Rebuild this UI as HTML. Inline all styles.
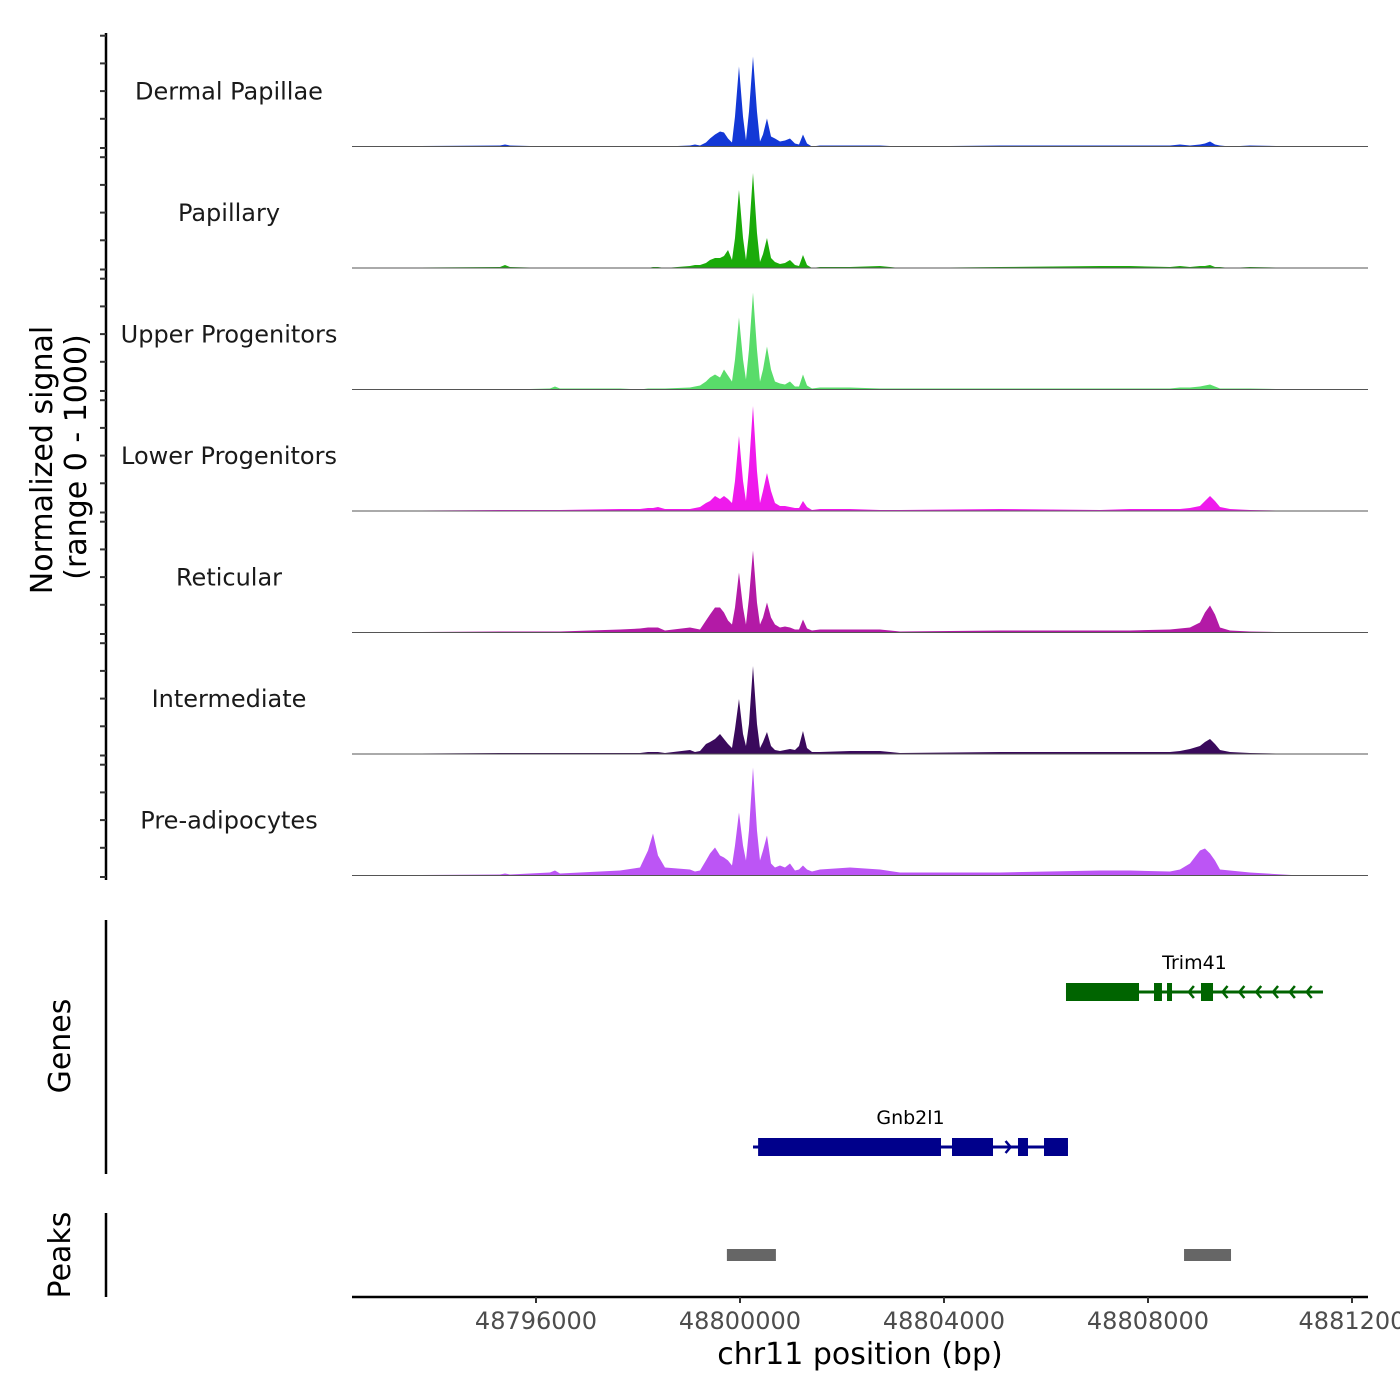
<!DOCTYPE html>
<html><head><meta charset="utf-8"><style>
html,body{margin:0;padding:0;background:#fff;}
svg{display:block;font-family:"DejaVu Sans","Liberation Sans",sans-serif;}
</style></head><body>
<svg id="chart" width="1400" height="1400" viewBox="0 0 1400 1400" xmlns="http://www.w3.org/2000/svg">
<g id="tracks"></g>
<g id="leftaxis"></g>
<text transform="translate(52,460) rotate(-90)" text-anchor="middle" font-size="30" fill="#000">Normalized signal</text>
<text transform="translate(86,457) rotate(-90)" text-anchor="middle" font-size="30" fill="#000">(range 0 - 1000)</text>
<line x1="106" y1="920" x2="106" y2="1174" stroke="#000" stroke-width="2.5"/>
<text transform="translate(70,1046) rotate(-90)" text-anchor="middle" font-size="30">Genes</text>
<line x1="106" y1="1213" x2="106" y2="1297" stroke="#000" stroke-width="2.5"/>
<text transform="translate(70,1255) rotate(-90)" text-anchor="middle" font-size="30">Peaks</text>
<g id="genes"></g>
<g id="peaks"></g>
<g id="xaxis"></g>
<text x="860" y="1364" text-anchor="middle" font-size="30">chr11 position (bp)</text>
</svg>
<script>
const NS="http://www.w3.org/2000/svg";
const positions=[48792392,48795294,48795392,48795490,48796274,48796372,48796470,48797647,48798039,48798196,48798294,48798392,48798529,48799019,48799117,48799216,48799333,48799412,48799510,48799608,48799686,48799765,48799843,48799902,48799980,48800059,48800117,48800176,48800255,48800333,48800392,48800451,48800529,48800608,48800686,48800784,48800882,48800980,48801078,48801157,48801235,48801314,48801412,48801568,48802157,48802745,48803137,48805098,48807059,48807647,48808431,48808627,48808823,48809019,48809117,48809216,48809314,48809412,48809608,48810000,48810980,48812314];
const trackNames=["Dermal Papillae","Papillary","Upper Progenitors","Lower Progenitors","Reticular","Intermediate","Pre-adipocytes"];
const trackColors=["#1338d6","#1aab0a","#59dc6a","#ef1aec","#b31aa6","#3a0a5c","#bc55f5"];
const sigDermal=[0,1,2,1,0,0,0,0,0,0, 0,0,0,1,2,1,4,8,12,15, 14,8,4,30,80,30,6,35,90,35, 5,12,28,10,8,5,6,8,3,2, 12,3,0,1,1,1,0,1,1,1, 1,2,1,2,3,5,2,1,0,1, 0,0].map(v=>v*8);
const sigPapillary=[0,1,3,1,0,0,0,0,0,0, 1,1,0,2,3,3,5,8,10,10, 12,18,8,30,78,30,8,35,95,35, 6,14,30,10,6,4,5,8,3,2, 13,3,0,1,1,2,0,1,2,2, 1,2,1,2,2,3,1,1,0,1, 0,0].map(v=>v*8);
const sigUpper=[0,0,0,0,1,3,1,1,0,1, 1,1,1,2,3,4,8,12,15,12, 20,14,8,30,72,30,10,40,97,40, 8,20,43,20,8,6,5,8,3,3, 15,4,1,2,2,1,1,1,1,1, 1,2,2,3,4,5,3,1,1,1, 0,0].map(v=>v*8);
const sigLower=[0,1,1,1,1,1,1,2,2,3, 3,4,2,2,3,4,8,10,15,12, 15,12,8,30,75,30,10,45,105,40, 8,20,38,20,8,5,5,4,3,3, 10,4,1,2,2,1,1,2,1,2, 2,2,3,5,10,15,10,4,2,1, 0,0].map(v=>v*8);
const sigReticular=[0,1,1,1,1,1,1,3,4,5, 5,5,2,5,4,3,12,18,25,25, 20,12,8,25,60,25,8,35,82,30, 8,15,30,15,8,5,6,5,3,3, 13,4,2,3,3,3,1,2,2,2, 3,4,5,10,20,27,18,5,2,1, 0,0].map(v=>v*8);
const sigIntermediate=[0,1,1,1,1,1,1,1,1,2, 2,2,1,4,2,3,10,12,15,20, 15,10,6,25,55,20,8,30,88,30, 6,12,22,8,4,3,4,5,4,8, 23,6,2,2,3,3,1,2,2,2, 2,3,5,8,12,15,10,4,2,1, 0,0].map(v=>v*8);
const sigPreadipo=[0,1,2,1,3,5,2,5,8,25, 42,20,8,6,4,5,15,22,28,20, 18,15,10,30,63,30,15,45,108,45, 15,25,40,12,8,10,8,12,5,6, 10,6,4,6,8,6,3,3,5,5, 4,6,12,25,27,22,15,6,5,3, 0,0].map(v=>v*8);
const signals=[sigDermal,sigPapillary,sigUpper,sigLower,sigReticular,sigIntermediate,sigPreadipo];
const xTicks=[48796000,48800000,48804000,48808000,48812000];
const xTickLabels=["48796000","48800000","48804000","48808000","4881200"];
const peakStarts=[48799743,48808707];
const peakEnds=[48800704,48809628];
const geneNames=["Trim41","Gnb2l1"];
const geneStarts=[48806392,48800255];
const geneEnds=[48811431,48806431];
const geneStrands=[-1,1];
const trimExonStarts=[48806392,48808118,48808373,48809039];
const trimExonEnds=[48807824,48808274,48808471,48809275];
const gnbExonStarts=[48800355,48804157,48805451,48805961];
const gnbExonEnds=[48803941,48804961,48805647,48806431];

const X0=352,X1=1368,BP0=48792392,BP1=48812314;
function xs(bp){return X0+(bp-BP0)/(BP1-BP0)*(X1-X0);}
const TRACK_TOP=25,TRACK_H=121.5;
function baseY(i){return TRACK_TOP+TRACK_H*(i+1);}
function ys(v,i){return baseY(i)-v/1000*125;}
function mk(tag,attrs,parent){const e=document.createElementNS(NS,tag);for(const k in attrs)e.setAttribute(k,attrs[k]);parent.appendChild(e);return e;}

const tracks=document.getElementById('tracks');
signals.forEach((sig,i)=>{
  let d="M"+xs(positions[0])+","+baseY(i);
  sig.forEach((v,j)=>{d+=" L"+xs(positions[j]).toFixed(2)+","+ys(v,i).toFixed(2);});
  d+=" L"+xs(positions[positions.length-1])+","+baseY(i)+" Z";
  const p=mk('path',{d:d,fill:trackColors[i],stroke:'none'},tracks);
  
  
  const bl=mk('line',{x1:X0,x2:X1,y1:baseY(i),y2:baseY(i),stroke:'#555',"stroke-width":1},tracks);
  
  
  const t=mk('text',{x:229,y:baseY(i)-55+8,"text-anchor":"middle","font-size":24,fill:'#1a1a1a'},tracks);
  
  
  t.textContent=trackNames[i];
});

const la=document.getElementById('leftaxis');
const ax=mk('line',{x1:106,x2:106,y1:33,y2:880,stroke:'#000',"stroke-width":2.5},la);


for(let i=0;i<7;i++){
  for(let k=0;k<5;k++){
    const y=baseY(i)-k*27.7+(k===0?1.5:0);
    const tk=mk('line',{x1:100,x2:106,y1:y,y2:y,stroke:'#333',"stroke-width":2},la);
    
    
  }
}

const gg=document.getElementById('genes');
const geneY=[992,1147],geneCol=["#006400","#00008b"];
const exS=[trimExonStarts,gnbExonStarts],exE=[trimExonEnds,gnbExonEnds];
geneNames.forEach((n,g)=>{
  const y=geneY[g],c=geneCol[g];
  const ln=mk('line',{x1:xs(geneStarts[g]),x2:xs(geneEnds[g]),y1:y,y2:y,stroke:c,"stroke-width":3},gg);
  
  
  exS[g].forEach((s,k)=>{
    const r=mk('rect',{x:xs(s),y:y-9,width:xs(exE[g][k])-xs(s),height:18,fill:c},gg);
    
    
  });
  const step=330;
  for(let bp=geneStarts[g]+100;bp<geneEnds[g];bp+=step){
    let inside=false;exS[g].forEach((s,k)=>{if(bp>=s-60&&bp<=exE[g][k]+60)inside=true;});
    if(inside)continue;
    const x=xs(bp),dd=geneStrands[g]*5;
    const a=mk('polyline',{points:(x-dd)+","+(y-6)+" "+x+","+y+" "+(x-dd)+","+(y+6),fill:'none',stroke:c,"stroke-width":2.5},gg);
    
    
  }
  const t=mk('text',{x:(xs(geneStarts[g])+xs(geneEnds[g]))/2,y:y-23,"text-anchor":"middle","font-size":19,fill:'#000'},gg);
  
  
  t.textContent=n;
});

const pg=document.getElementById('peaks');
peakStarts.forEach((s,k)=>{
  const r=mk('rect',{x:xs(s),y:1249,width:xs(peakEnds[k])-xs(s),height:12,fill:'#666'},pg);
  
  
});

const xa=document.getElementById('xaxis');
const xl=mk('line',{x1:X0,x2:X1,y1:1297,y2:1297,stroke:'#000',"stroke-width":2.5},xa);


xTicks.forEach((v,k)=>{
  const x=xs(v);
  const tk=mk('line',{x1:x,x2:x,y1:1297,y2:1303,stroke:'#333',"stroke-width":2},xa);
  
  
  const t=mk('text',{x:x,y:1329,"text-anchor":"middle","font-size":24,fill:'#4d4d4d'},xa);
  
  
  t.textContent=xTickLabels[k];
});
</script>
</body></html>
